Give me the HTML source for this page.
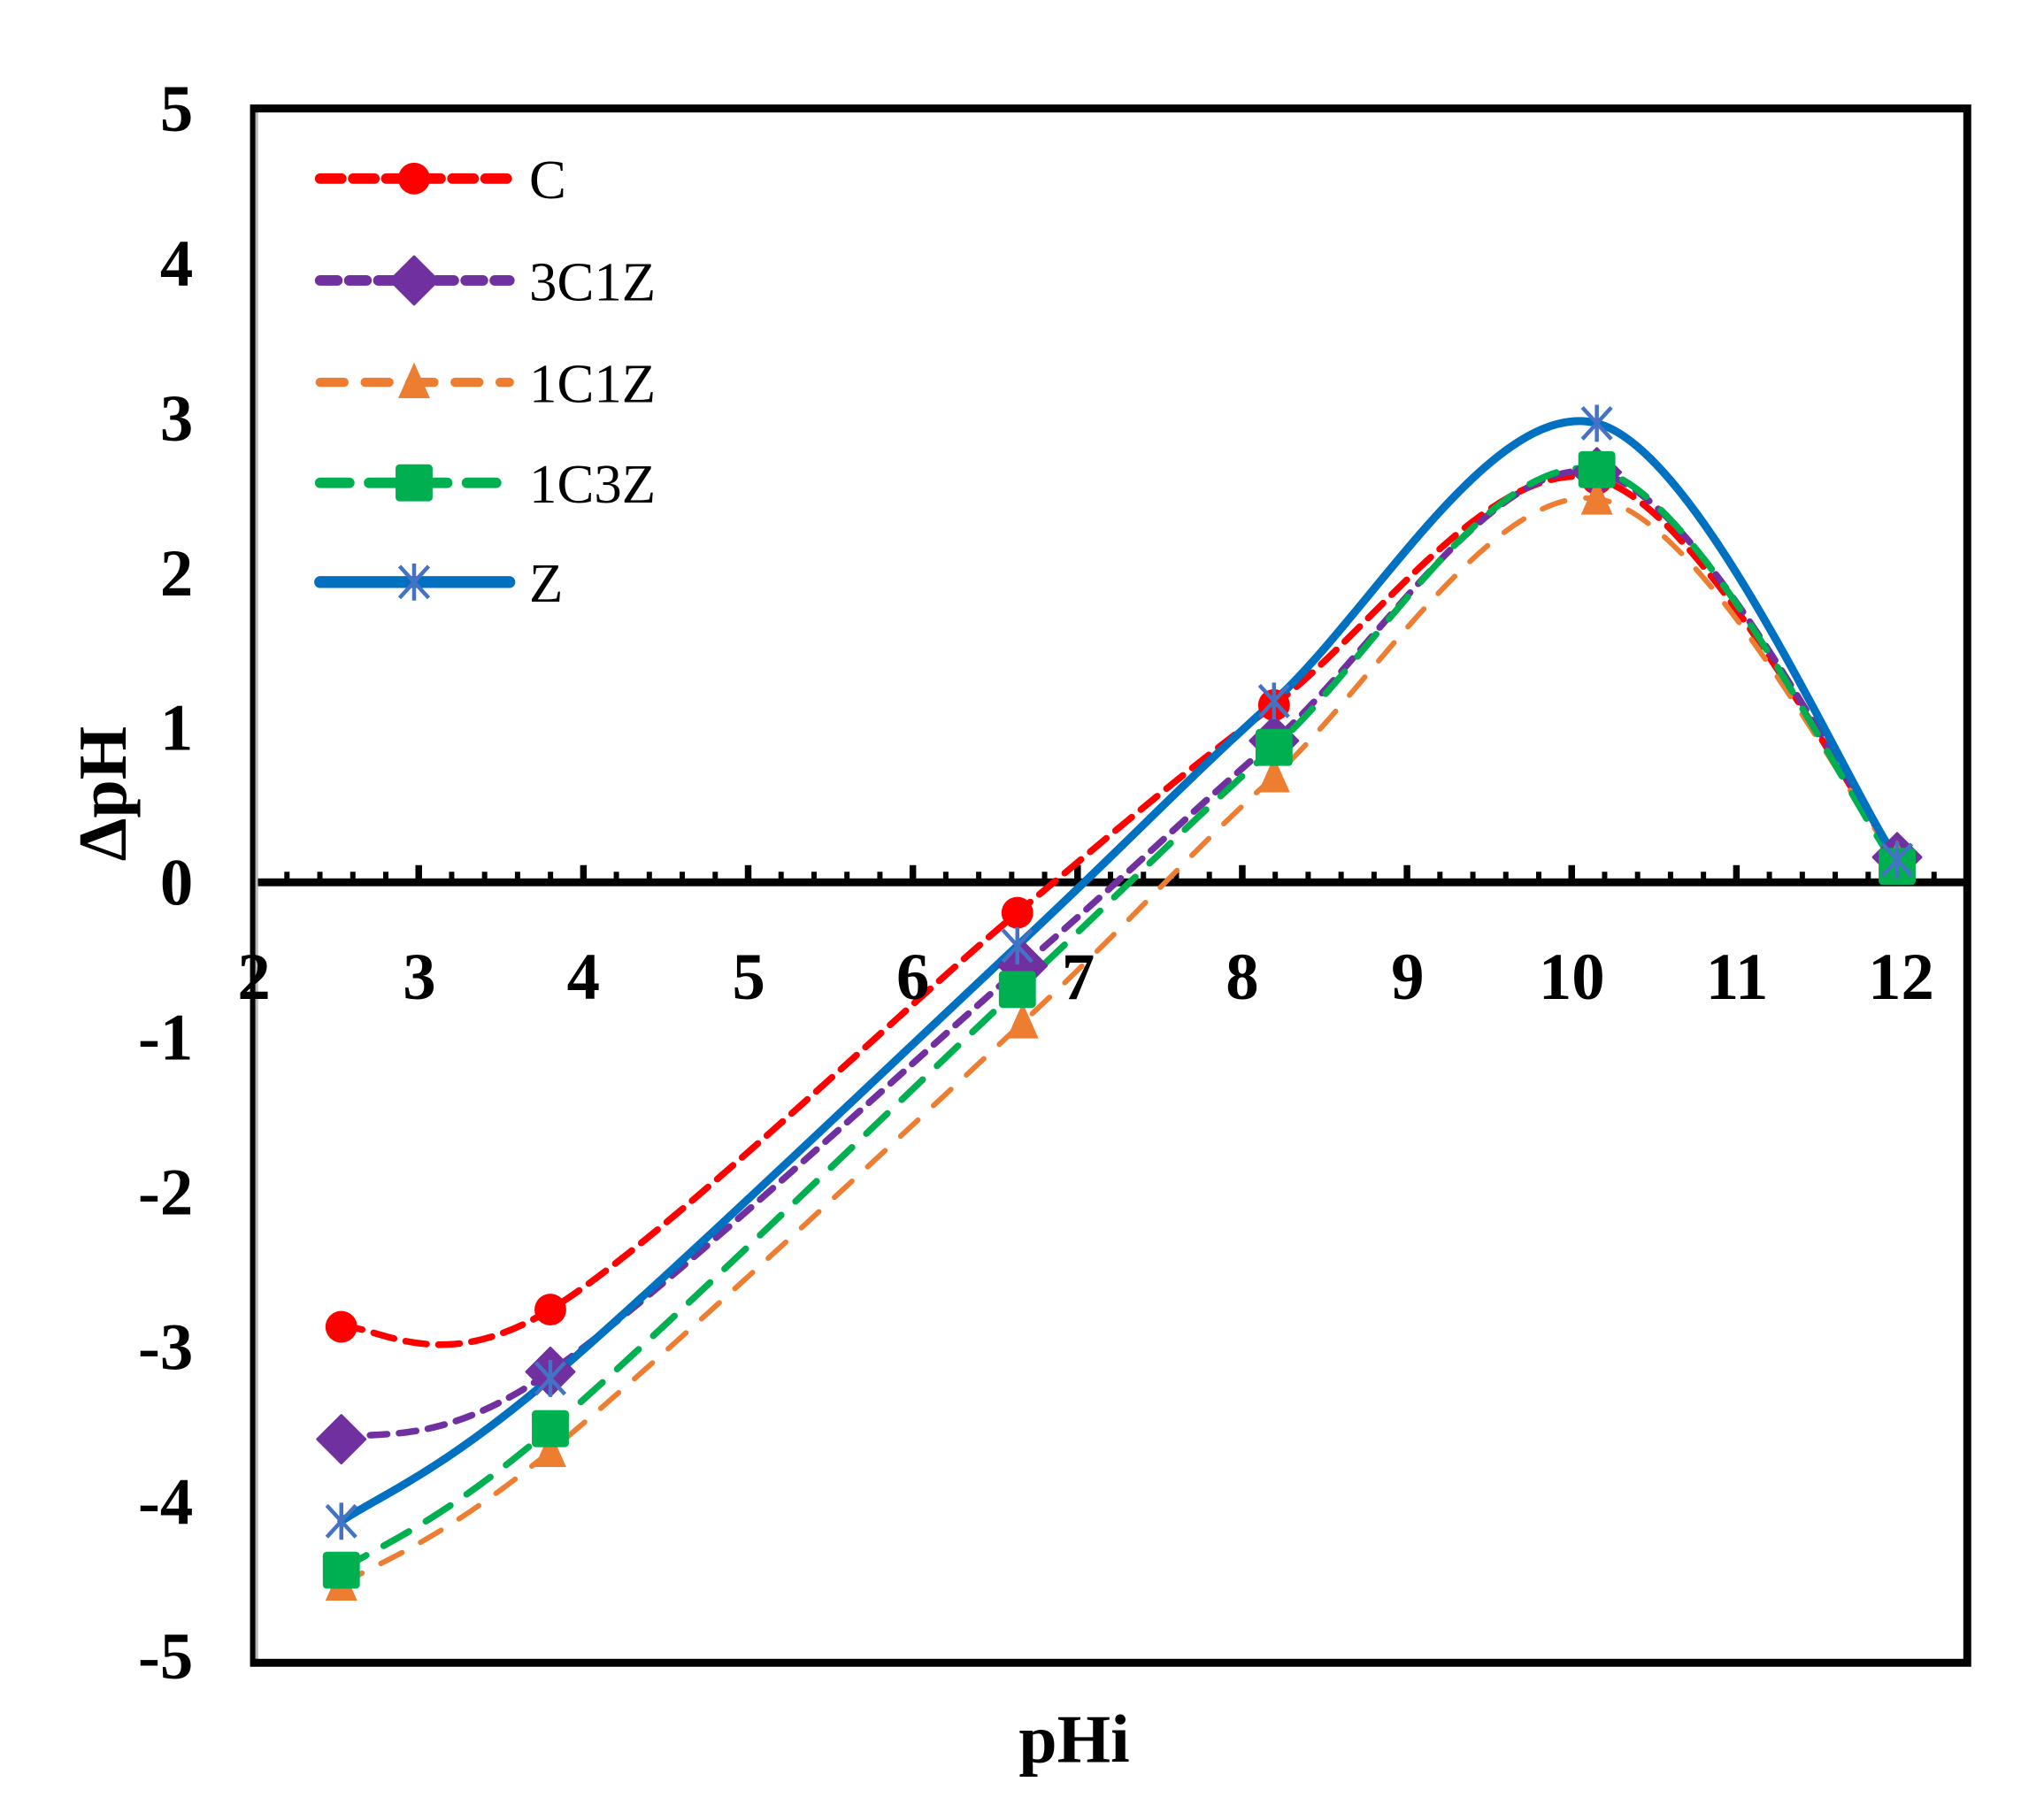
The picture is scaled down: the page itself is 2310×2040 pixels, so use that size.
<!DOCTYPE html>
<html><head><meta charset="utf-8"><style>
html,body{margin:0;padding:0;background:#fff;}
svg{display:block;}
text{font-family:"Liberation Serif",serif;}
</style></head><body>
<svg id="s" width="2310" height="2040" viewBox="0 0 1545 1364.5" preserveAspectRatio="none" xmlns="http://www.w3.org/2000/svg">
<rect x="0" y="0" width="1545" height="1365" fill="#fff"/>
<g id="ticks"></g>
<line x1="192" y1="667" x2="1487" y2="667" stroke="#000" stroke-width="6"/>
<g id="series"></g>
<rect x="192" y="82" width="1295" height="1175" fill="none" stroke="#000" stroke-width="6"/>
<line x1="194" y1="85" x2="194" y2="1254" stroke="#bbb" stroke-width="2"/>
<g font-weight="bold" font-size="50" text-anchor="end">
<text x="146" y="99">5</text><text x="146" y="216">4</text><text x="146" y="333">3</text>
<text x="146" y="450">2</text><text x="146" y="567">1</text><text x="146" y="684">0</text>
<text x="146" y="801">-1</text><text x="146" y="918">-2</text><text x="146" y="1035">-3</text>
<text x="146" y="1152">-4</text><text x="146" y="1269">-5</text>
</g>
<g font-weight="bold" font-size="50" text-anchor="middle">
<text x="192" y="755">2</text><text x="317" y="755">3</text><text x="441" y="755">4</text>
<text x="566" y="755">5</text><text x="690" y="755">6</text><text x="815" y="755">7</text>
<text x="939" y="755">8</text><text x="1064" y="755">9</text><text x="1188" y="755">10</text>
<text x="1313" y="755">11</text><text x="1437" y="755">12</text>
</g>
<text x="812" y="1332" font-weight="bold" font-size="52" text-anchor="middle">pHi</text>
<text transform="translate(95,600) rotate(-90)" font-weight="bold" font-size="52" text-anchor="middle">ΔpH</text>
<g id="legend" font-size="42"></g>
</svg>
<script>
var NS="http://www.w3.org/2000/svg";
function el(t,a,p){var e=document.createElementNS(NS,t);for(var k in a)e.setAttribute(k,a[k]);p.appendChild(e);return e;}
var tk=document.getElementById('ticks');
for(var i=0;i<=52;i++){var v=2+i*0.2;var x=192+(v-2)*124.5;var maj=(i%5==0);
 if(x>1485)break; el('line',{x1:x,y1:667,x2:x,y2:maj?654:659,stroke:'#000','stroke-width':maj?5:4},tk);}
var S=[
 {c:'#FF0000',w:5,d:'16 9',m:'circle',p:[[258,1003],[416,990],[769,690],[963,533],[1207,362],[1434,648]]},
 {c:'#7030A0',w:5,d:'13 9',m:'diamond',p:[[258,1088],[416,1037],[773,730],[963,560],[1207,357],[1434,648]]},
 {c:'#ED7D31',w:4,d:'18 16',m:'tri',p:[[258,1198],[416,1097],[773,773],[963,587],[1207,377],[1434,650]]},
 {c:'#00B050',w:5,d:'22 15',m:'square',p:[[258,1187],[416,1080],[769,748],[963,565],[1207,355],[1434,655]]},
 {c:'#0070C0',w:6,d:'',m:'star',p:[[258,1150],[416,1042],[769,715],[963,530],[1207,320],[1434,650]]}
];
function path(p){var d='M'+p[0][0]+','+p[0][1];
 for(var i=0;i<p.length-1;i++){var p0=p[i-1]||p[i],p1=p[i],p2=p[i+1],p3=p[i+2]||p[i+1];
  var c1=[p1[0]+(p2[0]-p0[0])/6,p1[1]+(p2[1]-p0[1])/6],c2=[p2[0]-(p3[0]-p1[0])/6,p2[1]-(p3[1]-p1[1])/6];
  d+=' C'+c1+' '+c2+' '+p2;}return d;}
function mark(g,m,x,y,col){
 if(m=='circle')el('circle',{cx:x,cy:y,r:12,fill:col},g);
 else if(m=='diamond')el('polygon',{points:(x)+','+(y-18)+' '+(x+18)+','+y+' '+x+','+(y+18)+' '+(x-18)+','+y,fill:col,'stroke-linejoin':'round',stroke:col,'stroke-width':2},g);
 else if(m=='tri')el('polygon',{points:x+','+(y-15)+' '+(x+12)+','+(y+12)+' '+(x-12)+','+(y+12),fill:col},g);
 else if(m=='square')el('rect',{x:x-14,y:y-14,width:28,height:28,rx:3,fill:col},g);
 else {var c='#4472C4';el('line',{x1:x-11,y1:y-12,x2:x+11,y2:y+12,stroke:c,'stroke-width':3},g);
  el('line',{x1:x+11,y1:y-12,x2:x-11,y2:y+12,stroke:c,'stroke-width':3},g);
  el('line',{x1:x,y1:y-14,x2:x,y2:y+14,stroke:c,'stroke-width':3},g);}
}
var sg=document.getElementById('series');
S.forEach(function(s){var a={d:path(s.p),fill:'none',stroke:s.c,'stroke-width':s.w,'stroke-linecap':'round'};if(s.d)a['stroke-dasharray']=s.d;el('path',a,sg);});
S.forEach(function(s){s.p.forEach(function(q){mark(sg,s.m,q[0],q[1],s.c);});});
var lg=document.getElementById('legend');var names=['C','3C1Z','1C1Z','1C3Z','Z'];var ys=[135,212,289,365,440];
S.forEach(function(s,i){var a={x1:242,y1:ys[i],x2:385,y2:ys[i],stroke:s.c,'stroke-width':s.w+3,'stroke-linecap':'round'};if(s.d)a['stroke-dasharray']=s.d;el('line',a,lg);
 mark(lg,s.m,313,ys[i],s.c);var t=el('text',{x:400,y:ys[i]+15},lg);t.textContent=names[i];});
</script>
</body></html>
